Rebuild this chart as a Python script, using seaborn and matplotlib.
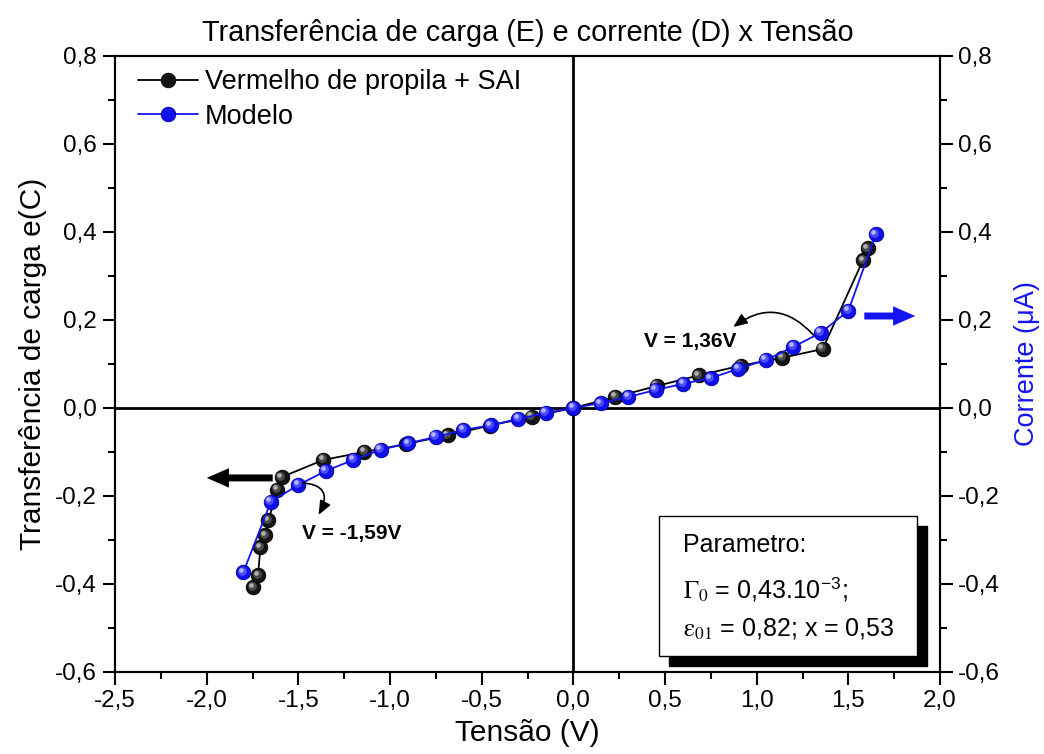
import matplotlib
matplotlib.use("Agg")
import matplotlib.pyplot as plt
import matplotlib.transforms as mtransforms
from matplotlib.patches import Rectangle
from matplotlib.ticker import MultipleLocator
import seaborn as sns

# Measured charge transfer (left axis)
tensao_exp = [-1.745, -1.72, -1.707, -1.68, -1.663, -1.614, -1.59, -1.363, -1.14,
              -0.912, -0.684, -0.456, -0.228, 0.0, 0.228, 0.456, 0.684, 0.912,
              1.14, 1.36, 1.58, 1.605]
carga_exp = [-0.407, -0.380, -0.316, -0.289, -0.255, -0.186, -0.157, -0.118, -0.100,
             -0.082, -0.062, -0.040, -0.020, 0.0, 0.025, 0.050, 0.074, 0.096,
             0.114, 0.134, 0.336, 0.363]

# Model current (right axis)
tensao_mod = [-1.80, -1.65, -1.50, -1.35, -1.20, -1.05, -0.90, -0.75, -0.60, -0.45,
              -0.30, -0.15, 0.0, 0.15, 0.30, 0.45, 0.60, 0.75, 0.90, 1.05, 1.20,
              1.35, 1.50, 1.65]
corrente_mod = [-0.373, -0.213, -0.175, -0.143, -0.118, -0.095, -0.080, -0.066, -0.050,
                -0.039, -0.025, -0.011, 0.0, 0.011, 0.025, 0.041, 0.055, 0.068, 0.089,
                0.109, 0.139, 0.171, 0.221, 0.395]

x_ticks = [-2.5, -2.0, -1.5, -1.0, -0.5, 0.0, 0.5, 1.0, 1.5, 2.0]
x_tick_labels = ["-2,5", "-2,0", "-1,5", "-1,0", "-0,5", "0,0", "0,5", "1,0", "1,5", "2,0"]
y_ticks = [-0.6, -0.4, -0.2, 0.0, 0.2, 0.4, 0.6, 0.8]
y_tick_labels = ["-0,6", "-0,4", "-0,2", "0,0", "0,2", "0,4", "0,6", "0,8"]

sns.set_theme(style="white")
plt.rcParams["font.family"] = ["Liberation Sans", "DejaVu Sans"]
plt.rcParams["mathtext.fontset"] = "stix"
plt.rcParams["axes.edgecolor"] = "black"
plt.rcParams["axes.labelcolor"] = "black"
plt.rcParams["axes.linewidth"] = 1.5
plt.rcParams["text.color"] = "black"
plt.rcParams["xtick.color"] = "black"
plt.rcParams["ytick.color"] = "black"

BLUE = "#1414f0"

fig = plt.figure(figsize=(10.44, 7.54), dpi=100)
fig.patch.set_facecolor("white")
ax = fig.add_axes([0.1102, 0.1088, 0.7902, 0.817])
ax2 = ax.twinx()

for a in (ax, ax2):
    a.set_xlim(-2.5, 2.0)
    a.set_ylim(-0.6, 0.8)
    a.set_facecolor("none")
    a.grid(False)

# zero reference lines
ax.axhline(0, color="black", lw=2.0, zorder=1)
ax.axvline(0, color="black", lw=2.0, zorder=1)

# measured series
sns.lineplot(x=tensao_exp, y=carga_exp, ax=ax, sort=False, color="black", lw=1.3,
             marker="o", markersize=10.5, markerfacecolor="#141414",
             markeredgecolor="#000000", markeredgewidth=0.6,
             label="Vermelho de propila + SAI", zorder=3)
# model series
sns.lineplot(x=tensao_mod, y=corrente_mod, ax=ax2, sort=False, color=BLUE, lw=1.3,
             marker="o", markersize=10.5, markerfacecolor="#1010e8",
             markeredgecolor="#0000a0", markeredgewidth=0.6,
             label="Modelo", zorder=3)

# glossy highlights on the ball markers
off1 = mtransforms.offset_copy(ax.transData, fig=fig, x=-1.5, y=1.5, units="dots")
off2 = mtransforms.offset_copy(ax.transData, fig=fig, x=-2.5, y=2.5, units="dots")
ax.scatter(tensao_exp, carga_exp, s=40, color="#4a4a4a", linewidths=0, transform=off1, zorder=4)
ax.scatter(tensao_exp, carga_exp, s=11, color="#b0b0b0", linewidths=0, transform=off2, zorder=5)
off1b = mtransforms.offset_copy(ax2.transData, fig=fig, x=-1.5, y=1.5, units="dots")
off2b = mtransforms.offset_copy(ax2.transData, fig=fig, x=-2.5, y=2.5, units="dots")
ax2.scatter(tensao_mod, corrente_mod, s=40, color="#4b4bff", linewidths=0, transform=off1b, zorder=4)
ax2.scatter(tensao_mod, corrente_mod, s=11, color="#b4b4ff", linewidths=0, transform=off2b, zorder=5)

# axes, ticks and labels
ax.set_xticks(x_ticks, labels=x_tick_labels)
ax.set_yticks(y_ticks, labels=y_tick_labels)
ax2.set_yticks(y_ticks, labels=y_tick_labels)
ax.xaxis.set_minor_locator(MultipleLocator(0.25))
ax.yaxis.set_minor_locator(MultipleLocator(0.1))
ax2.yaxis.set_minor_locator(MultipleLocator(0.1))

ax.tick_params(which="major", direction="out", length=9, width=1.5, labelsize=17.5, pad=4,
               bottom=True, left=True, top=False, right=False)
ax.tick_params(which="minor", direction="out", length=5, width=1.5,
               bottom=True, left=True, top=False, right=False)
ax2.tick_params(which="major", direction="out", length=9, width=1.5, labelsize=17.5, pad=4,
                right=True, left=False)
ax2.tick_params(which="minor", direction="out", length=5, width=1.5, right=True, left=False)
for a in (ax, ax2):
    for s in a.spines.values():
        s.set_color("black")
        s.set_linewidth(1.5)

ax.set_xlabel("Tensão (V)", fontsize=21.5, labelpad=5, color="black")
ax.set_ylabel("Transferência de carga e(C)", fontsize=21.5, labelpad=6, color="black")
ax2.set_ylabel("Corrente (μA)", fontsize=19.5, color=BLUE, labelpad=10)
ax.set_title("Transferência de carga (E) e corrente (D) x Tensão", fontsize=20.8, pad=11,
             color="black")

# legend
for a in (ax, ax2):
    if a.get_legend() is not None:
        a.get_legend().remove()
h1, l1 = ax.get_legend_handles_labels()
h2, l2 = ax2.get_legend_handles_labels()
leg = ax2.legend(h1 + h2, l1 + l2, loc="upper left", bbox_to_anchor=(0.012, 1.0),
                 frameon=False, fontsize=19.5, handlelength=2.2, handletextpad=0.25,
                 labelspacing=0.3, borderaxespad=0.2, borderpad=0.3)
for t in leg.get_texts():
    t.set_color("black")

# direction arrows for each axis
ax.annotate("", xy=(-2.0, -0.159), xytext=(-1.64, -0.159),
            arrowprops=dict(arrowstyle="simple,head_length=0.8,head_width=0.7,tail_width=0.25",
                            color="black", lw=0, mutation_scale=20, shrinkA=0, shrinkB=0))
ax2.annotate("", xy=(1.865, 0.209), xytext=(1.587, 0.209),
             arrowprops=dict(arrowstyle="simple,head_length=0.8,head_width=0.7,tail_width=0.25",
                             color=BLUE, lw=0, mutation_scale=20, shrinkA=0, shrinkB=0))

# curved callouts for the threshold voltages
ax2.annotate("", xy=(0.872, 0.184), xytext=(1.309, 0.166),
             arrowprops=dict(arrowstyle="-|>,head_length=0.6,head_width=0.25",
                             connectionstyle="arc3,rad=0.45", color="black", lw=1.2,
                             mutation_scale=14, shrinkA=0, shrinkB=0))
ax2.text(0.638, 0.152, "V = 1,36V", fontsize=15, fontweight="bold", ha="center", va="center")
ax2.annotate("", xy=(-1.390, -0.243), xytext=(-1.489, -0.170),
             arrowprops=dict(arrowstyle="-|>,head_length=0.6,head_width=0.25",
                             connectionstyle="arc3,rad=-0.8", color="black", lw=1.2,
                             mutation_scale=14, shrinkA=0, shrinkB=0))
ax2.text(-1.21, -0.286, "V = -1,59V", fontsize=15, fontweight="bold", ha="center", va="center")

# parameter box with drop shadow
bx, by, bw, bh = 0.659, 0.026, 0.313, 0.227
ax2.add_patch(Rectangle((bx + 0.0121, by - 0.0162), bw, bh, transform=ax2.transAxes,
                        facecolor="black", edgecolor="black", zorder=6, clip_on=False))
ax2.add_patch(Rectangle((bx, by), bw, bh, transform=ax2.transAxes,
                        facecolor="white", edgecolor="black", lw=1.0, zorder=7, clip_on=False))
tx = 0.688
ax2.text(tx, 0.206, "Parametro:", transform=ax2.transAxes, fontsize=18, va="center", zorder=8)
ax2.text(tx, 0.133, r"$\Gamma_{0}$ = 0,43.10$^{\mathregular{-3}}$;", transform=ax2.transAxes,
         fontsize=18, va="center", zorder=8)
ax2.text(tx, 0.071, r"$\mathrm{\varepsilon}_{01}$ = 0,82; x = 0,53", transform=ax2.transAxes,
         fontsize=18, va="center", zorder=8)

fig.savefig("out.png", dpi=100, facecolor="white")
